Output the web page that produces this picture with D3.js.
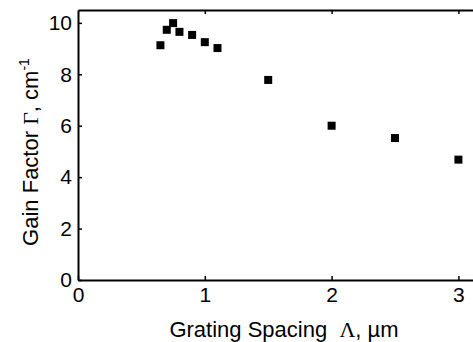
<!DOCTYPE html>
<html>
<head>
<meta charset="utf-8">
<style>
  body { margin: 0; background: #fff; }
  svg text { font-family: "Liberation Sans", Arial, sans-serif; fill: #000; }
</style>
</head>
<body>
<svg id="chart"></svg>
<script src="https://d3js.org/d3.v7.min.js"></script>
<script>
// grating spacing (um) vs gain factor (cm^-1)
const spacing = [0.65, 0.70, 0.75, 0.80, 0.90, 1.00, 1.10, 1.50, 2.00, 2.50, 3.00];
const gain    = [9.13, 9.73, 9.99, 9.65, 9.53, 9.25, 9.02, 7.78, 6.00, 5.52, 4.68];
const xTicks = [0, 1, 2, 3];
const yTicks = [0, 2, 4, 6, 8, 10];

const W = 473, H = 342;
const m = { left: 78, right: 0, top: 10, bottom: 62 };

const svg = d3.select("#chart").attr("width", W).attr("height", H);

const x = d3.scaleLinear().domain([0, 3.115]).range([m.left, W - m.right]);
const y = d3.scaleLinear().domain([0, 10.5]).range([H - m.bottom, m.top]);

// bottom axis, ticks pointing in
const xAxis = svg.append("g")
  .attr("transform", "translate(0," + (H - m.bottom) + ")")
  .call(d3.axisBottom(x).tickValues(xTicks).tickFormat(d3.format("d"))
    .tickSizeInner(-4).tickSizeOuter(0).tickPadding(7));
// top axis, no labels
const xTop = svg.append("g")
  .attr("transform", "translate(0," + m.top + ")")
  .call(d3.axisTop(x).tickValues([1, 2, 3]).tickSizeInner(-4).tickSizeOuter(0).tickFormat(""));
const yAxis = svg.append("g")
  .attr("transform", "translate(" + m.left + ",0)")
  .call(d3.axisLeft(y).tickValues(yTicks).tickFormat(d3.format("d"))
    .tickSizeInner(-4).tickSizeOuter(0).tickPadding(6));

[xAxis, xTop, yAxis].forEach(g => {
  g.select(".domain").attr("stroke-width", 2);
  g.selectAll(".tick line").attr("stroke-width", 1.5);
  g.selectAll("text").attr("font-size", 21).attr("font-family", "Liberation Sans, Arial, sans-serif");
});

// squares
svg.append("g").selectAll("rect")
  .data(spacing)
  .join("rect")
  .attr("x", (d, i) => x(d) - 4)
  .attr("y", (d, i) => y(gain[i]) - 4)
  .attr("width", 8)
  .attr("height", 8)
  .attr("fill", "#000");

// axis titles
const xt = svg.append("text")
  .attr("x", 284).attr("y", 337)
  .attr("text-anchor", "middle")
  .attr("font-size", 22)
  .style("white-space", "pre");
xt.append("tspan").text("Grating Spacing\u00A0 ");
xt.append("tspan").attr("font-family", "Liberation Serif, serif").text("\u039B");
xt.append("tspan").text(", \u00B5m");

const yt = svg.append("text")
  .attr("transform", "translate(38,152) rotate(-90)")
  .attr("text-anchor", "middle")
  .attr("font-size", 22);
yt.append("tspan").text("Gain Factor ");
yt.append("tspan").attr("font-family", "Liberation Serif, serif").text("\u0393");
yt.append("tspan").text(", cm");
yt.append("tspan").attr("font-size", 14).attr("dy", -9).text("-1");
</script>
</body>
</html>
